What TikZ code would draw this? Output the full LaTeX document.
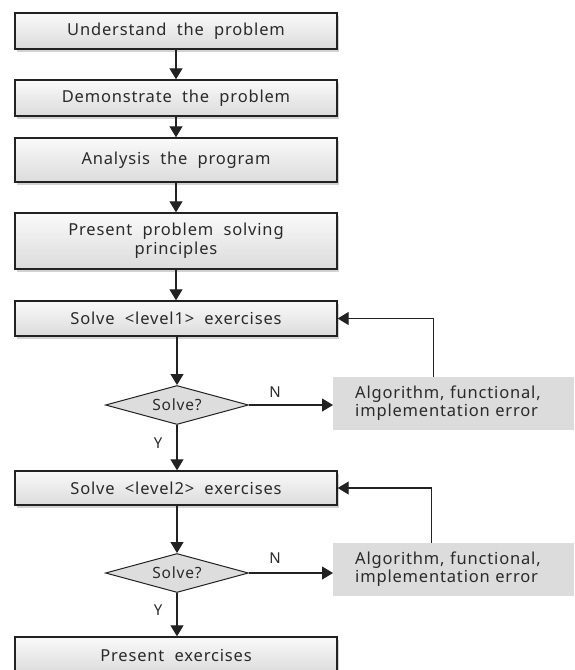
\documentclass[tikz,border=0pt]{standalone}
\usepackage{fontspec}
\setmainfont[WordSpace=2.0,LetterSpace=5]{Noto Sans}
\usetikzlibrary{shapes.geometric,arrows.meta,shadows}
\definecolor{linec}{HTML}{222222}
\definecolor{txt}{HTML}{2A2A2A}
\definecolor{errfill}{HTML}{DCDCDC}
\definecolor{diafill}{HTML}{DDDDDD}
\tikzset{
  stepbox/.style={draw=linec, line width=1.4pt, minimum width=322pt, inner sep=0pt,
    top color=gray!4, bottom color=gray!28, align=center, text=txt,
    drop shadow={shadow xshift=2pt, shadow yshift=-2.5pt, opacity=0.35, fill=gray}},
  decide/.style={diamond, aspect=3.67, draw=linec, line width=1pt, fill=diafill, inner sep=0pt,
    minimum width=143pt, minimum height=39pt, text=txt, font=\fontsize{15.5}{16}\selectfont},
  errbox/.style={fill=errfill, anchor=west, minimum width=241pt, inner xsep=22pt,
    text width=197pt, align=left, text=txt, font=\fontsize{16.5}{18}\selectfont},
  arr/.style={draw=linec, line width=1.2pt, -{Triangle[length=11pt,width=13pt]}},
  lbl/.style={text=txt, font=\fontsize{15}{16}\selectfont}
}
\begin{document}
\begin{tikzpicture}[x=1pt, y=-1pt, font=\fontsize{16.5}{19}\selectfont]
\useasboundingbox (0,0) rectangle (574,670);
\fill[white] (0,0) rectangle (574,670);
\node[stepbox, minimum height=36pt] (b1) at (176,31) {Understand the problem};
\node[stepbox, minimum height=36pt] (b2) at (176,98) {Demonstrate the problem};
\node[stepbox, minimum height=44pt] (b3) at (176,160) {Analysis the program};
\node[stepbox, minimum height=56pt] (b4) at (176,241) {Present problem solving\\principles};
\node[stepbox, minimum height=35pt] (b5) at (176,318.5) {Solve {<}level1{>} exercises};
\node[decide] (d1) at (177,405) {Solve?};
\node[errbox, minimum height=53pt] (e1) at (333,403.5) {Algorithm, functional,\\implementation error};
\node[stepbox, minimum height=34pt] (b6) at (176,488) {Solve {<}level2{>} exercises};
\node[decide] (d2) at (177,573) {Solve?};
\node[errbox, minimum height=53pt] (e2) at (333,569.5) {Algorithm, functional,\\implementation error};
\node[stepbox, minimum height=36pt] (b7) at (176,655) {Present exercises};
\draw[arr] (b1) -- (b2);
\draw[arr] (b2) -- (b3);
\draw[arr] (b3) -- (b4);
\draw[arr] (b4) -- (b5);
\draw[arr] (b5.south -| d1) -- (d1.north);
\draw[arr] (d1.east) -- (d1.east -| e1.west);
\draw[arr] (d1.south) -- (d1.south |- b6.north);
\draw[arr] ([xshift=-20pt]e1.north) |- (b5.east);
\draw[arr] (b6.south -| d2) -- (d2.north);
\draw[arr] (d2.east) -- (d2.east -| e2.west);
\draw[arr] (d2.south) -- (d2.south |- b7.north);
\draw[arr] ([xshift=-22pt]e2.north) |- (b6.east);
\node[lbl] (n1) at (275,392) {N};
\node[lbl] (y1) at (158,443) {Y};
\node[lbl] (n2) at (275,558) {N};
\node[lbl] (y2) at (158,610) {Y};
\end{tikzpicture}
\end{document}
